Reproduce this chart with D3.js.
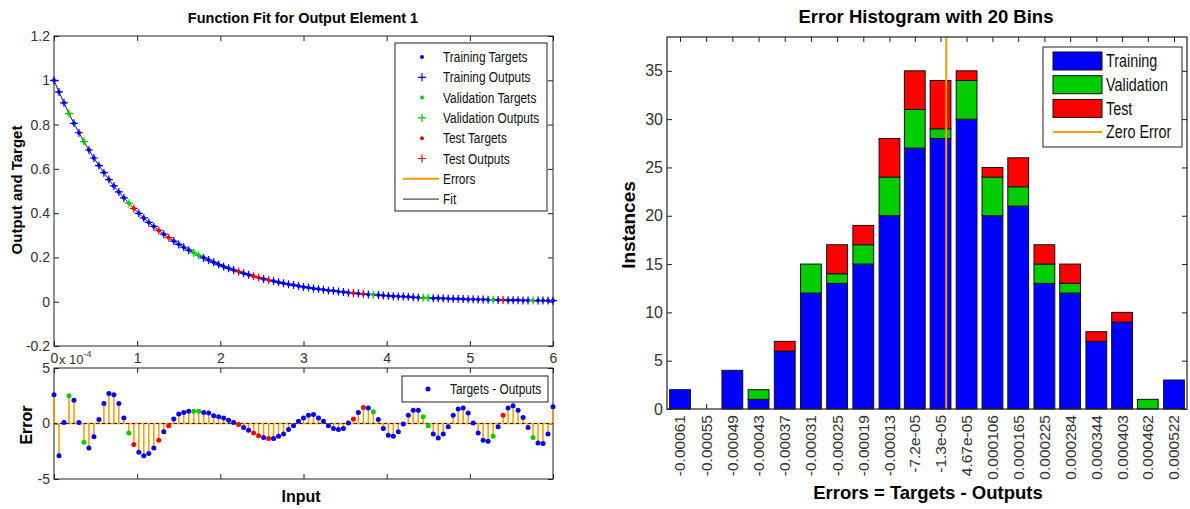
<!DOCTYPE html>
<html>
<head>
<meta charset="utf-8">
<script src="https://cdn.jsdelivr.net/npm/d3@7"></script>
<style>
  body { margin: 0; background: #fff; }
</style>
</head>
<body>
<div id="chart"></div>
<script>
// ---- data ----
// input grid of the function fit (101 samples)
const fitInputs = [0,0.06,0.12,0.18,0.24,0.3,0.36,0.42,0.48,0.54,0.6,0.66,0.72,0.78,0.84,0.9,0.96,1.02,1.08,1.14,
  1.2,1.26,1.32,1.38,1.44,1.5,1.56,1.62,1.68,1.74,1.8,1.86,1.92,1.98,2.04,2.1,2.16,2.22,2.28,2.34,
  2.4,2.46,2.52,2.58,2.64,2.7,2.76,2.82,2.88,2.94,3,3.06,3.12,3.18,3.24,3.3,3.36,3.42,3.48,3.54,
  3.6,3.66,3.72,3.78,3.84,3.9,3.96,4.02,4.08,4.14,4.2,4.26,4.32,4.38,4.44,4.5,4.56,4.62,4.68,4.74,
  4.8,4.86,4.92,4.98,5.04,5.1,5.16,5.22,5.28,5.34,5.4,5.46,5.52,5.58,5.64,5.7,5.76,5.82,5.88,5.94,6];

// targets (top panel)
const fitTargets = [1.000,0.947,0.898,0.850,0.806,0.763,0.723,0.685,0.649,0.615,0.583,0.552,0.523,0.496,0.469,0.445,0.421,0.399,0.378,0.358,
  0.340,0.322,0.305,0.289,0.274,0.259,0.246,0.233,0.221,0.209,0.198,0.188,0.178,0.168,0.159,0.151,0.143,0.136,0.128,0.122,
  0.115,0.109,0.103,0.098,0.093,0.088,0.083,0.079,0.075,0.071,0.067,0.064,0.060,0.057,0.054,0.051,0.049,0.046,0.044,0.041,
  0.039,0.037,0.035,0.033,0.032,0.030,0.028,0.027,0.025,0.024,0.023,0.022,0.020,0.019,0.018,0.017,0.016,0.016,0.015,0.014,
  0.013,0.013,0.012,0.011,0.011,0.010,0.010,0.009,0.009,0.008,0.008,0.007,0.007,0.007,0.006,0.006,0.005,0.005,0.005,0.005,0.005];

// errors = targets - outputs, in units of 1e-4
const fitErrors = [2.6,-2.9,0.1,2.5,2.1,0.1,-1.7,-2.2,-1.2,0.35,1.8,2.7,2.6,1.8,0.5,-0.85,-1.9,-2.6,-2.9,-2.7,
  -2.2,-1.5,-0.75,-0.2,0.4,0.85,1.0,1.1,1.1,1.1,1.0,0.95,0.7,0.6,0.5,0.3,0.1,-0.1,-0.35,-0.6,
  -0.85,-1.1,-1.25,-1.35,-1.35,-1.15,-0.95,-0.55,-0.2,0.2,0.5,0.75,0.8,0.5,0.2,-0.2,-0.45,-0.55,-0.45,0.05,
  0.4,1.0,1.45,1.4,1.05,0.35,-0.45,-1.05,-1.15,-0.75,-0.05,0.75,1.2,1.2,0.6,-0.2,-0.95,-1.3,-0.95,-0.3,
  0.75,1.3,1.4,0.95,0.05,-0.85,-1.5,-1.6,-1.15,-0.3,0.75,1.4,1.6,1.2,0.55,-0.35,-1.25,-1.75,-1.8,-0.95,1.5];

// which samples belong to validation / test (everything else is training)
const validationIdx = [3,6,15,28,29,64,74,75,88,96];
const testIdx = [16,21,23,37,40,41,43,60,62,90];

const fitXTicks = [0,1,2,3,4,5,6];
const fitYTicks = [-0.2,0,0.2,0.4,0.6,0.8,1,1.2];
const errYTicks = [-5,0,5];

// error histogram
const binLabels = ["-0.00061","-0.00055","-0.00049","-0.00043","-0.00037","-0.00031","-0.00025","-0.00019","-0.00013","-7.2e-05",
  "-1.3e-05","4.67e-05","0.000106","0.000165","0.000225","0.000284","0.000344","0.000403","0.000462","0.000522"];
const binTraining   = [2,0,4,1,6,12,13,15,20,27,28,30,20,21,13,12,7,9,0,3];
const binValidation = [0,0,0,1,0,3,1,2,4,4,1,4,4,2,2,1,0,0,1,0];
const binTest       = [0,0,0,0,1,0,3,2,4,4,5,1,1,3,2,2,1,1,0,0];
const histYTicks = [0,5,10,15,20,25,30,35];

// ---- drawing ----
const fontMain = "'Liberation Sans', Arial, sans-serif";
const colTrain = "#0000ff", colVal = "#00cc00", colTest = "#ff0000", colErr = "#ff9900";
const narrow = 0.82; // legend text in the picture is condensed

const svg = d3.select("#chart")
  .append("svg")
    .attr("width", 1190)
    .attr("height", 509)
    .style("background", "#fff");

function setColor(i) {
  if (testIdx.includes(i)) return colTest;
  if (validationIdx.includes(i)) return colVal;
  return colTrain;
}

// draws an axis with MATLAB style inward ticks and no domain line
function drawAxis(axis, tx, ty, fontSize) {
  const g = svg.append("g")
    .attr("transform", `translate(${tx},${ty})`)
    .call(axis)
    .attr("font-family", fontMain)
    .attr("font-size", fontSize || 13);
  g.select(".domain").remove();
  g.selectAll(".tick line").attr("stroke", "#222");
  g.selectAll(".tick text").attr("fill", "#333");
  return g;
}

// ===== left: function fit =====
const fx = d3.scaleLinear().domain([0, 6]).range([54, 553]);
const fy = d3.scaleLinear().domain([-0.2, 1.2]).range([346, 36]);
const ey = d3.scaleLinear().domain([-5, 5]).range([479, 368]);

drawAxis(d3.axisBottom(fx).tickValues(fitXTicks).tickSize(-5).tickPadding(7).tickFormat(d => d), 0, 346, 14);
drawAxis(d3.axisTop(fx).tickValues(fitXTicks).tickSize(-5).tickFormat(""), 0, 36);
drawAxis(d3.axisLeft(fy).tickValues(fitYTicks).tickSize(-5).tickPadding(4).tickFormat(d => d), 54, 0, 14);
drawAxis(d3.axisRight(fy).tickValues(fitYTicks).tickSize(-5).tickFormat(""), 553, 0);

svg.append("rect")
  .attr("x", fx(0)).attr("y", fy(1.2))
  .attr("width", fx(6) - fx(0)).attr("height", fy(-0.2) - fy(1.2))
  .attr("fill", "none").attr("stroke", "#222");

const fitOutputs = fitTargets.map((t, i) => t - fitErrors[i] * 1e-4);

// fit line
svg.append("path")
  .datum(fitOutputs)
  .attr("d", d3.line().x((d, i) => fx(fitInputs[i])).y(d => fy(d)))
  .attr("fill", "none")
  .attr("stroke", "#222")
  .attr("stroke-width", 1);

// targets (dots)
svg.append("g").selectAll("circle")
  .data(fitTargets)
  .join("circle")
    .attr("cx", (d, i) => fx(fitInputs[i]))
    .attr("cy", d => fy(d))
    .attr("r", 2)
    .attr("fill", (d, i) => setColor(i));

// outputs (plus)
svg.append("g").selectAll("path")
  .data(fitOutputs)
  .join("path")
    .attr("transform", (d, i) => `translate(${fx(fitInputs[i])},${fy(d)})`)
    .attr("d", "M-4,0H4M0,-4V4")
    .attr("stroke", (d, i) => setColor(i))
    .attr("stroke-width", 1.2);

svg.append("text")
  .attr("x", 303).attr("y", 23)
  .attr("text-anchor", "middle")
  .attr("font-family", fontMain).attr("font-weight", "bold").attr("font-size", 14.5)
  .text("Function Fit for Output Element 1");

svg.append("text")
  .attr("transform", "translate(22,190) rotate(-90)")
  .attr("text-anchor", "middle")
  .attr("font-family", fontMain).attr("font-weight", "bold").attr("font-size", 15)
  .text("Output and Target");

// legend (fit)
const fitLegend = [
  {label: "Training Targets", color: colTrain, type: "dot"},
  {label: "Training Outputs", color: colTrain, type: "plus"},
  {label: "Validation Targets", color: colVal, type: "dot"},
  {label: "Validation Outputs", color: colVal, type: "plus"},
  {label: "Test Targets", color: colTest, type: "dot"},
  {label: "Test Outputs", color: colTest, type: "plus"},
  {label: "Errors", color: colErr, type: "line"},
  {label: "Fit", color: "#222", type: "line"}
];
svg.append("rect")
  .attr("x", 395).attr("y", 43).attr("width", 152).attr("height", 168)
  .attr("fill", "#fff").attr("stroke", "#222");
const lg = svg.append("g").selectAll("g")
  .data(fitLegend)
  .join("g")
    .attr("transform", (d, i) => `translate(0,${57 + i * 20.3})`);
lg.filter(d => d.type === "dot").append("circle")
  .attr("cx", 422).attr("r", 2).attr("fill", d => d.color);
lg.filter(d => d.type === "plus").append("path")
  .attr("d", "M418,0H426M422,-4V4").attr("stroke", d => d.color).attr("stroke-width", 1.2);
lg.filter(d => d.type === "line").append("line")
  .attr("x1", 403).attr("x2", 439)
  .attr("stroke", d => d.color).attr("stroke-width", d => d.label === "Errors" ? 2 : 1);
lg.append("text")
  .attr("transform", `translate(443,0) scale(${narrow},1)`)
  .attr("dy", "0.35em")
  .attr("font-family", fontMain).attr("font-size", 14.5).attr("fill", "#111")
  .text(d => d.label);

// ===== left bottom: errors =====
drawAxis(d3.axisBottom(fx).tickValues(fitXTicks).tickSize(-5).tickFormat(""), 0, 479);
drawAxis(d3.axisTop(fx).tickValues(fitXTicks).tickSize(-5).tickFormat(""), 0, 368);
drawAxis(d3.axisLeft(ey).tickValues(errYTicks).tickSize(-5).tickPadding(4).tickFormat(d => d), 54, 0, 14);
drawAxis(d3.axisRight(ey).tickValues(errYTicks).tickSize(-5).tickFormat(""), 553, 0);

svg.append("rect")
  .attr("x", fx(0)).attr("y", ey(5))
  .attr("width", fx(6) - fx(0)).attr("height", ey(-5) - ey(5))
  .attr("fill", "none").attr("stroke", "#222");

svg.append("g").selectAll("line")
  .data(fitErrors)
  .join("line")
    .attr("x1", (d, i) => fx(fitInputs[i])).attr("x2", (d, i) => fx(fitInputs[i]))
    .attr("y1", ey(0)).attr("y2", d => ey(d))
    .attr("stroke", colErr).attr("stroke-width", 1.5);

svg.append("line")
  .attr("x1", fx(0)).attr("x2", fx(6)).attr("y1", ey(0)).attr("y2", ey(0))
  .attr("stroke", colErr).attr("stroke-width", 1.5);
svg.append("line")
  .attr("x1", fx(0)).attr("x2", fx(6)).attr("y1", ey(0)).attr("y2", ey(0))
  .attr("stroke", "#222").attr("stroke-width", 1.2).attr("stroke-dasharray", "3,3");

svg.append("g").selectAll("circle")
  .data(fitErrors)
  .join("circle")
    .attr("cx", (d, i) => fx(fitInputs[i]))
    .attr("cy", d => ey(d))
    .attr("r", 2.5)
    .attr("fill", (d, i) => setColor(i));

// exponent label
svg.append("text")
  .attr("x", 59).attr("y", 364)
  .attr("font-family", fontMain).attr("font-size", 13).attr("fill", "#333")
  .text("x 10")
  .append("tspan").attr("dy", -7).attr("font-size", 9).text("-4");

svg.append("text")
  .attr("transform", "translate(32,425) rotate(-90)")
  .attr("text-anchor", "middle")
  .attr("font-family", fontMain).attr("font-weight", "bold").attr("font-size", 16)
  .text("Error");

svg.append("text")
  .attr("x", 301).attr("y", 502)
  .attr("text-anchor", "middle")
  .attr("font-family", fontMain).attr("font-weight", "bold").attr("font-size", 16)
  .text("Input");

svg.append("rect")
  .attr("x", 402).attr("y", 376).attr("width", 146).attr("height", 26)
  .attr("fill", "#fff").attr("stroke", "#222");
svg.append("circle").attr("cx", 428).attr("cy", 389).attr("r", 2.5).attr("fill", colTrain);
svg.append("text")
  .attr("transform", `translate(450,389) scale(${narrow},1)`)
  .attr("dy", "0.35em")
  .attr("font-family", fontMain).attr("font-size", 14.5).attr("fill", "#111")
  .text("Targets - Outputs");

// ===== right: error histogram =====
const binCenters = binLabels.map(Number);
const binStep = (binCenters[binCenters.length - 1] - binCenters[0]) / (binCenters.length - 1);
const hx = d3.scaleLinear()
  .domain([binCenters[0] - binStep / 2, binCenters[binCenters.length - 1] + binStep / 2])
  .range([667, 1187]);
const hy = d3.scaleLinear().domain([0, 38.5]).range([409, 37]);

drawAxis(d3.axisLeft(hy).tickValues(histYTicks).tickSize(-5).tickPadding(4).tickFormat(d => d), 667, 0, 16);
drawAxis(d3.axisRight(hy).tickValues(histYTicks).tickSize(-5).tickFormat(""), 1187, 0);
drawAxis(d3.axisBottom(hx).tickValues(binCenters).tickSize(-5).tickFormat(""), 0, 409);
drawAxis(d3.axisTop(hx).tickValues(binCenters).tickSize(-5).tickFormat(""), 0, 37);

const histRows = binLabels.map((b, i) => ({bin: b, training: binTraining[i], validation: binValidation[i], test: binTest[i]}));
const stacked = d3.stack().keys(["training", "validation", "test"])(histRows);
const histColors = {training: colTrain, validation: colVal, test: colTest};
const barW = (hx(binStep) - hx(0)) * 0.8;

svg.append("g").selectAll("g")
  .data(stacked)
  .join("g")
    .attr("fill", d => histColors[d.key])
  .selectAll("rect")
  .data(d => d.filter(s => s[1] > s[0]))
  .join("rect")
    .attr("x", d => hx(+d.data.bin) - barW / 2)
    .attr("y", d => hy(d[1]))
    .attr("width", barW)
    .attr("height", d => hy(d[0]) - hy(d[1]))
    .attr("stroke", "#111")
    .attr("stroke-width", 1);

svg.append("line")
  .attr("x1", hx(0)).attr("x2", hx(0)).attr("y1", hy(38.5)).attr("y2", hy(0))
  .attr("stroke", colErr).attr("stroke-width", 2);

svg.append("rect")
  .attr("x", 667).attr("y", 37).attr("width", 520).attr("height", 372)
  .attr("fill", "none").attr("stroke", "#222").attr("stroke-width", 1.2);

svg.append("g").selectAll("text")
  .data(binLabels)
  .join("text")
    .attr("transform", d => `translate(${hx(+d)},415) rotate(-90)`)
    .attr("text-anchor", "end")
    .attr("dy", "0.35em")
    .attr("font-family", fontMain).attr("font-size", 15.5).attr("fill", "#333")
    .text(d => d);

svg.append("text")
  .attr("x", 926).attr("y", 23)
  .attr("text-anchor", "middle")
  .attr("font-family", fontMain).attr("font-weight", "bold").attr("font-size", 18.5)
  .text("Error Histogram with 20 Bins");

svg.append("text")
  .attr("transform", "translate(635,225) rotate(-90)")
  .attr("text-anchor", "middle")
  .attr("font-family", fontMain).attr("font-weight", "bold").attr("font-size", 19)
  .text("Instances");

svg.append("text")
  .attr("x", 928).attr("y", 499)
  .attr("text-anchor", "middle")
  .attr("font-family", fontMain).attr("font-weight", "bold").attr("font-size", 18.5)
  .text("Errors = Targets - Outputs");

// legend (histogram)
const histLegend = [
  {label: "Training", color: colTrain, type: "patch"},
  {label: "Validation", color: colVal, type: "patch"},
  {label: "Test", color: colTest, type: "patch"},
  {label: "Zero Error", color: colErr, type: "line"}
];
svg.append("rect")
  .attr("x", 1043).attr("y", 47).attr("width", 139).attr("height", 100)
  .attr("fill", "#fff").attr("stroke", "#222");
const hl = svg.append("g").selectAll("g")
  .data(histLegend)
  .join("g")
    .attr("transform", (d, i) => `translate(0,${61 + i * 23.7})`);
hl.filter(d => d.type === "patch").append("rect")
  .attr("x", 1053).attr("y", -9).attr("width", 49).attr("height", 18)
  .attr("fill", d => d.color).attr("stroke", "#111");
hl.filter(d => d.type === "line").append("line")
  .attr("x1", 1053).attr("x2", 1102)
  .attr("stroke", d => d.color).attr("stroke-width", 2);
hl.append("text")
  .attr("transform", `translate(1106,0) scale(${narrow},1)`)
  .attr("dy", "0.35em")
  .attr("font-family", fontMain).attr("font-size", 17.5).attr("fill", "#111")
  .text(d => d.label);
</script>
</body>
</html>
